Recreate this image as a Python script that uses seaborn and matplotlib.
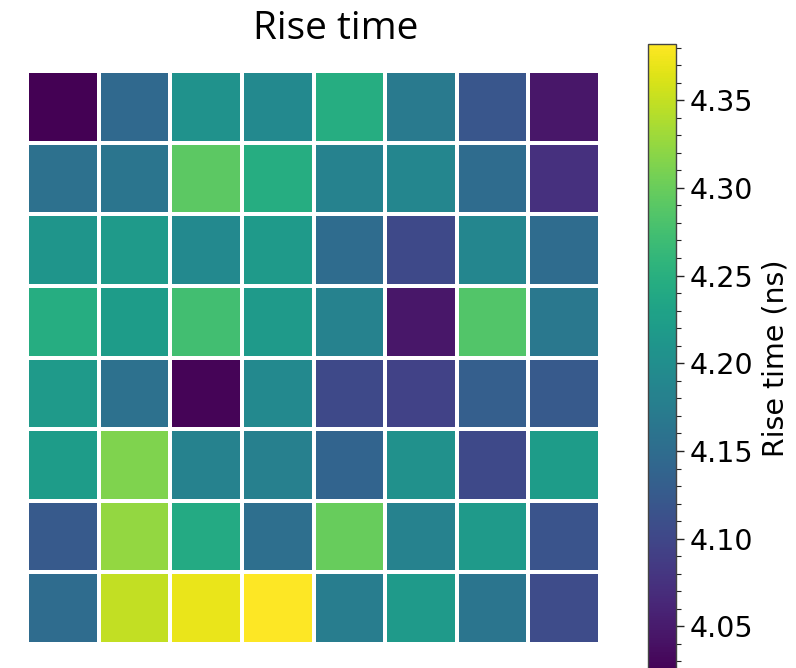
import numpy as np
import pandas as pd
import matplotlib
matplotlib.use("Agg")
import matplotlib.pyplot as plt
import seaborn as sns
from matplotlib.ticker import MultipleLocator

# Rise time values (ns), 8x8 grid, row 0 = top
row0 = [4.024, 4.145, 4.206, 4.192, 4.245, 4.170, 4.120, 4.045]
row1 = [4.156, 4.163, 4.292, 4.245, 4.181, 4.188, 4.149, 4.074]
row2 = [4.210, 4.217, 4.192, 4.217, 4.149, 4.103, 4.188, 4.149]
row3 = [4.245, 4.220, 4.274, 4.217, 4.181, 4.045, 4.285, 4.167]
row4 = [4.217, 4.156, 4.028, 4.192, 4.103, 4.095, 4.131, 4.124]
row5 = [4.220, 4.313, 4.181, 4.178, 4.138, 4.203, 4.103, 4.220]
row6 = [4.124, 4.324, 4.242, 4.153, 4.299, 4.181, 4.217, 4.117]
row7 = [4.149, 4.349, 4.370, 4.381, 4.174, 4.217, 4.163, 4.106]
rows = [row0, row1, row2, row3, row4, row5, row6, row7]

title_text = "Rise time"
cbar_label = "Rise time (ns)"
cbar_ticks = [4.05, 4.10, 4.15, 4.20, 4.25, 4.30, 4.35]
cbar_ticklabels = ["4.05", "4.10", "4.15", "4.20", "4.25", "4.30", "4.35"]
vmin_val, vmax_val = 4.024, 4.382

data = pd.DataFrame(rows)

sns.set_theme(style="white")
plt.rcParams['font.family'] = ['DejaVu Sans']
plt.rcParams['text.color'] = 'black'
plt.rcParams['axes.labelcolor'] = 'black'
plt.rcParams['ytick.color'] = 'black'

W, H = 796, 668
fig = plt.figure(figsize=(W / 100, H / 100), dpi=100)
ax = fig.add_axes([27 / W, (H - 644) / H, 573 / W, 573 / H])
cax = fig.add_axes([648 / W, -4 / H, 28 / W, 628 / H])

sns.heatmap(data, ax=ax, cbar_ax=cax, cmap="viridis", vmin=vmin_val, vmax=vmax_val,
            linewidths=2.7, linecolor="white", square=False,
            xticklabels=False, yticklabels=False,
            cbar_kws={"label": cbar_label})

cbar = ax.collections[0].colorbar
cbar.outline.set_visible(True)
cbar.outline.set_edgecolor("#444444")
cbar.outline.set_linewidth(1.0)
cbar.set_ticks(cbar_ticks)
cbar.ax.yaxis.set_minor_locator(MultipleLocator(0.01))
cbar.ax.tick_params(which="major", length=5.5, width=1, labelsize=20.5,
                    color="#222222", labelcolor="black", pad=4)
cbar.ax.tick_params(which="minor", length=3.5, width=0.8, color="#222222")
cbar.ax.yaxis.set_tick_params(which="both", right=True, left=False)
cbar.ax.set_yticklabels(cbar_ticklabels)
cbar.set_label(cbar_label, fontsize=20.5, labelpad=6, color="black")

fig.text(336 / W, 1 - 39 / H, title_text, ha="center", va="baseline",
         fontsize=28, color="black", family=["Open Sans", "DejaVu Sans"])

fig.savefig("out.png", dpi=100)
